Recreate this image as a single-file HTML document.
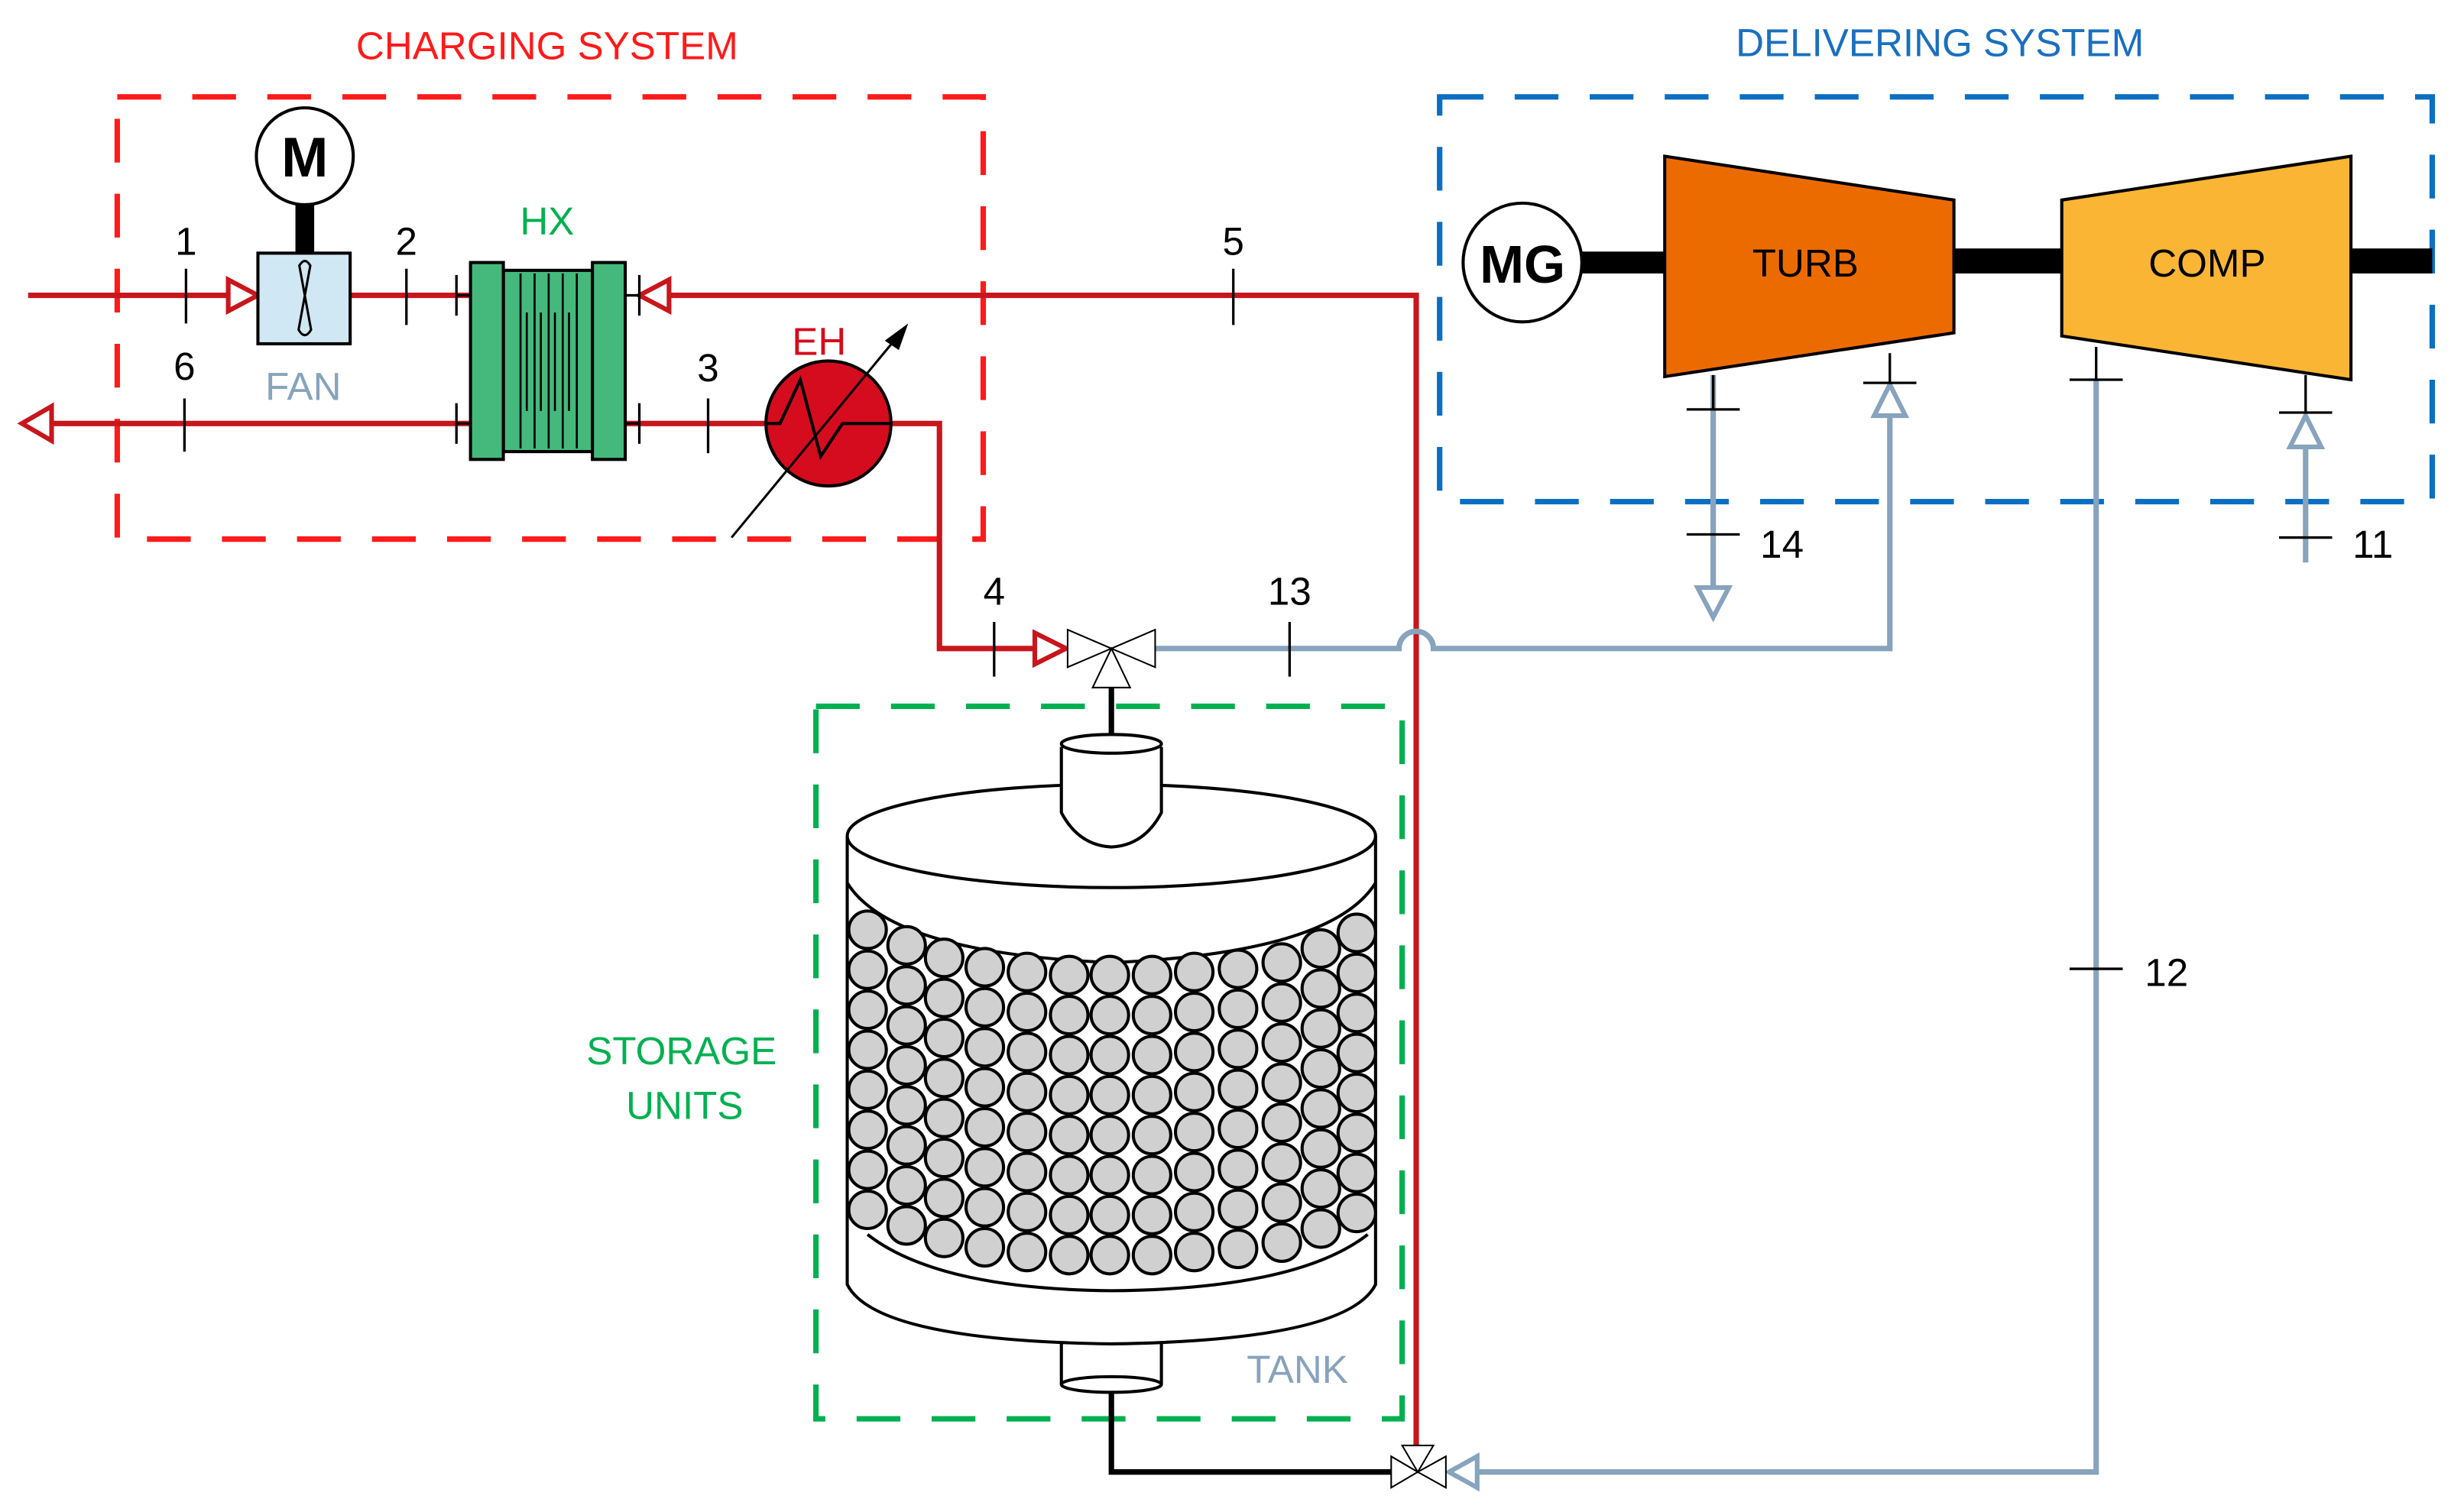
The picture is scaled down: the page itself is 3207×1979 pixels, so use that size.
<!DOCTYPE html>
<html><head><meta charset="utf-8"><style>
html,body{margin:0;padding:0;background:#fff;}
svg{display:block;}
text{font-family:"Liberation Sans",sans-serif;}
</style></head><body>
<svg width="3207" height="1979" viewBox="0 0 1568 967.6" xmlns="http://www.w3.org/2000/svg">
<defs>
<g id="col" fill="#d0d0d0" stroke="#000" stroke-width="2">
<circle cx="0" cy="0" r="12"/><circle cx="0" cy="25.6" r="12"/><circle cx="0" cy="51.2" r="12"/><circle cx="0" cy="76.8" r="12"/>
<circle cx="0" cy="102.4" r="12"/><circle cx="0" cy="128" r="12"/><circle cx="0" cy="153.6" r="12"/><circle cx="0" cy="179.2" r="12"/>
</g>
</defs>
<rect width="1568" height="967.6" fill="#fff"/>

<text x="350" y="38" font-size="25" fill="#ff1a1a" text-anchor="middle">CHARGING SYSTEM</text>
<text x="1241" y="36" font-size="25" fill="#1a6fbf" text-anchor="middle">DELIVERING SYSTEM</text>

<rect x="75" y="62" width="554" height="283" fill="none" stroke="#ff1a1a" stroke-width="3.5" stroke-dasharray="28,20"/>
<rect x="921" y="62" width="635" height="259" fill="none" stroke="#0a6fc2" stroke-width="3.5" stroke-dasharray="28,20"/>
<rect x="522" y="452" width="375" height="456" fill="none" stroke="#00b050" stroke-width="3.5" stroke-dasharray="28,20"/>

<g stroke="#c8161d" stroke-width="3.5" fill="none">
<line x1="18" y1="189" x2="146" y2="189"/>
<line x1="224" y1="189" x2="300" y2="189"/>
<polyline points="428,189 906,189 906,925"/>
<line x1="30" y1="271" x2="300" y2="271"/>
<line x1="400" y1="271" x2="490" y2="271"/>
<polyline points="570,271 601,271 601,415 662,415"/>
</g>
<g stroke="#c8161d" stroke-width="3" fill="#fff">
<polygon points="146,179 165,189 146,199"/>
<polygon points="428,179 409,189 428,199"/>
<polygon points="33,260 14,271 33,282"/>
<polygon points="662,405 682,415 662,425"/>
</g>

<g stroke="#87a3bd" stroke-width="3.5" fill="none">
<path d="M739,415 L895,415 A11,11 0 0 1 917,415 L1209,415 L1209,266"/>
<polyline points="1341,243 1341,942 945,942"/>
<line x1="1096" y1="240" x2="1096" y2="376"/>
<line x1="1475" y1="360" x2="1475" y2="286"/>
</g>
<g stroke="#87a3bd" stroke-width="3" fill="#fff">
<polygon points="1199,266 1209,246 1219,266"/>
<polygon points="1465,286 1475,266 1485,286"/>
<polygon points="1086,376 1096,395 1106,376"/>
<polygon points="945,932 927,942 945,952"/>
</g>

<polyline points="711,440 711,474" stroke="#000" stroke-width="3.5" fill="none"/>
<polyline points="711,890 711,942 890,942" stroke="#000" stroke-width="3.5" fill="none"/>

<g stroke="#000" stroke-width="1" fill="#fff">
<polygon points="683,403 711,415 683,427"/>
<polygon points="739,403 711,415 739,427"/>
<polygon points="699,440 711,415 723,440"/>
<polygon points="890,932 907,942 890,952"/>
<polygon points="925,932 907,942 925,952"/>
<polygon points="897,925 907,942 917,925"/>
</g>

<circle cx="195" cy="100" r="31" fill="#fff" stroke="#000" stroke-width="2"/>
<text x="195" y="113" font-size="36" font-weight="bold" text-anchor="middle">M</text>
<rect x="189" y="131" width="12" height="32" fill="#000"/>
<rect x="165" y="162" width="59" height="58" fill="#d0e8f3" stroke="#000" stroke-width="2"/>
<path d="M191.5,170 Q195,164 198.5,170 L191,211 Q195,218 199,211 Z" fill="none" stroke="#000" stroke-width="1.5"/>
<text x="194" y="256" font-size="25" fill="#87a3bd" text-anchor="middle">FAN</text>

<rect x="322" y="173" width="57" height="116" fill="#45b97c" stroke="#000" stroke-width="2"/>
<rect x="301" y="168" width="21" height="126" fill="#45b97c" stroke="#000" stroke-width="2"/>
<rect x="379" y="168" width="21" height="126" fill="#45b97c" stroke="#000" stroke-width="2"/>
<g stroke="#000" stroke-width="1.3">
<line x1="333" y1="175" x2="333" y2="287"/><line x1="342" y1="175" x2="342" y2="287"/>
<line x1="351" y1="175" x2="351" y2="287"/><line x1="360" y1="175" x2="360" y2="287"/>
<line x1="369" y1="175" x2="369" y2="287"/>
<line x1="337" y1="200" x2="337" y2="263"/><line x1="346" y1="200" x2="346" y2="263"/>
<line x1="355" y1="200" x2="355" y2="263"/><line x1="364" y1="200" x2="364" y2="263"/>
</g>
<text x="350" y="150" font-size="25" fill="#00b050" text-anchor="middle">HX</text>

<circle cx="530" cy="271" r="40" fill="#d50c1e" stroke="#000" stroke-width="2"/>
<polyline points="490,271 499,271 512,243 525,292 539,271 570,271" fill="none" stroke="#000" stroke-width="2"/>
<line x1="468" y1="344" x2="572" y2="218" stroke="#000" stroke-width="1.5"/>
<polygon points="581,207 566,218 575,224" fill="#000"/>
<text x="524" y="227" font-size="25" fill="#d50c1e" text-anchor="middle">EH</text>

<g stroke="#000" stroke-width="1.6">
<line x1="119" y1="172" x2="119" y2="207"/>
<line x1="260" y1="172" x2="260" y2="208"/>
<line x1="789" y1="172" x2="789" y2="208"/>
<line x1="118" y1="255" x2="118" y2="289"/>
<line x1="453" y1="255" x2="453" y2="290"/>
<line x1="636" y1="398" x2="636" y2="433"/>
<line x1="825" y1="398" x2="825" y2="433"/>
<line x1="292" y1="176" x2="292" y2="202"/><line x1="292" y1="189" x2="301" y2="189"/>
<line x1="409" y1="176" x2="409" y2="202"/><line x1="400" y1="189" x2="409" y2="189"/>
<line x1="292" y1="258" x2="292" y2="284"/><line x1="292" y1="271" x2="301" y2="271"/>
<line x1="409" y1="258" x2="409" y2="284"/><line x1="400" y1="271" x2="409" y2="271"/>
<line x1="1079" y1="342" x2="1113" y2="342"/>
<line x1="1458" y1="344" x2="1492" y2="344"/>
<line x1="1324" y1="620" x2="1358" y2="620"/>
<line x1="1096" y1="240" x2="1096" y2="262"/><line x1="1079" y1="262" x2="1113" y2="262"/>
<line x1="1209" y1="226" x2="1209" y2="245"/><line x1="1192" y1="245" x2="1226" y2="245"/>
<line x1="1341" y1="222" x2="1341" y2="243"/><line x1="1324" y1="243" x2="1358" y2="243"/>
<line x1="1475" y1="240" x2="1475" y2="264"/><line x1="1458" y1="264" x2="1492" y2="264"/>
</g>
<g font-size="25" fill="#000" text-anchor="middle">
<text x="119" y="163">1</text><text x="260" y="163">2</text><text x="789" y="163">5</text>
<text x="118" y="243">6</text><text x="453" y="244">3</text><text x="636" y="387">4</text>
<text x="825" y="387">13</text><text x="1140" y="357">14</text><text x="1518" y="357">11</text>
<text x="1386" y="631">12</text>
</g>

<rect x="1010" y="161" width="58" height="14" fill="#000"/>
<rect x="1248" y="159" width="73" height="16" fill="#000"/>
<rect x="1502" y="159" width="54" height="16" fill="#000"/>
<circle cx="974" cy="168" r="38" fill="#fff" stroke="#000" stroke-width="2"/>
<text x="974" y="181" font-size="34" font-weight="bold" text-anchor="middle">MG</text>
<polygon points="1065,100 1250,128 1250,213 1065,241" fill="#ec6b00" stroke="#000" stroke-width="2"/>
<text x="1155" y="177" font-size="25" text-anchor="middle">TURB</text>
<polygon points="1319,128 1504,100 1504,243 1319,215" fill="#fbb535" stroke="#000" stroke-width="2"/>
<text x="1412" y="177" font-size="25" text-anchor="middle">COMP</text>

<g stroke="#000" stroke-width="2" fill="#fff">
<path d="M542,535 L542,822 Q560,858 711,860 Q862,858 880,822 L880,535"/>
</g>
<path d="M542,565 Q570,610 711,616 Q852,610 880,565" fill="none" stroke="#000" stroke-width="2"/>
<path d="M555,790 Q600,825 711,826 Q830,825 875,790" fill="none" stroke="#000" stroke-width="2"/>
<use href="#col" x="555" y="595"/><use href="#col" x="580" y="605"/><use href="#col" x="604" y="613"/>
<use href="#col" x="630" y="619"/><use href="#col" x="657" y="622"/><use href="#col" x="684" y="624"/>
<use href="#col" x="710" y="624"/><use href="#col" x="737" y="624"/><use href="#col" x="764" y="622"/>
<use href="#col" x="792" y="620"/><use href="#col" x="820" y="616"/><use href="#col" x="845" y="607"/>
<use href="#col" x="868" y="597"/>
<ellipse cx="711" cy="535" rx="169" ry="33" fill="#fff" stroke="#000" stroke-width="2"/>
<path d="M679,478 L679,520 Q690,541 711,542 Q732,541 743,520 L743,478" fill="#fff" stroke="#000" stroke-width="2"/>
<ellipse cx="711" cy="476" rx="32" ry="6" fill="#fff" stroke="#000" stroke-width="2"/>
<path d="M679,860 L679,886 M743,860 L743,886" stroke="#000" stroke-width="2"/>
<ellipse cx="711" cy="886" rx="32" ry="5" fill="#fff" stroke="#000" stroke-width="2"/>
<text x="436" y="681" font-size="25" fill="#00b050" text-anchor="middle">STORAGE</text>
<text x="438" y="716" font-size="25" fill="#00b050" text-anchor="middle">UNITS</text>
<text x="830" y="885" font-size="25" fill="#87a3bd" text-anchor="middle">TANK</text>
</svg>
</body></html>
